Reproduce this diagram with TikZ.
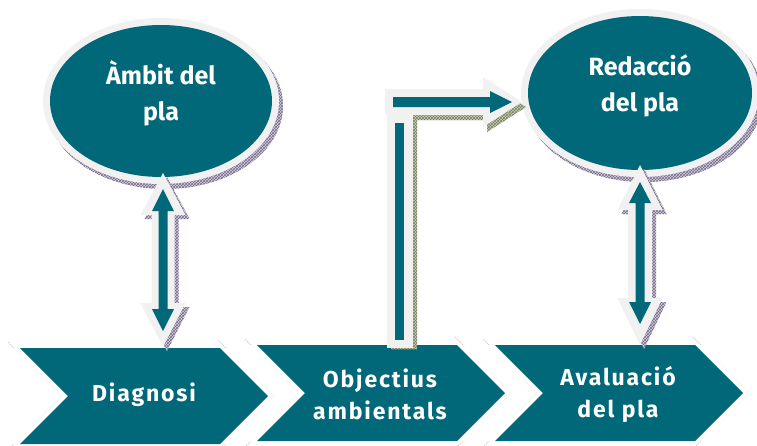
\documentclass[tikz,border=0pt]{standalone}
\usepackage{fontspec}
\setmainfont{Fira Sans}
\newfontfamily\chevfont[LetterSpace=8]{Fira Sans}
\usetikzlibrary{patterns}
\definecolor{tealA}{RGB}{0,104,120}
\definecolor{rimA}{RGB}{241,241,241}
\definecolor{shadP}{RGB}{212,206,222}
\definecolor{shadPd}{RGB}{120,110,140}
\definecolor{shadO}{RGB}{200,206,182}
\definecolor{shadOd}{RGB}{120,130,95}
\definecolor{dotA}{RGB}{205,210,210}
\tikzset{
  pshadow/.style={fill=shadP, postaction={pattern=crosshatch, pattern color=shadPd}},
  oshadow/.style={fill=shadO, postaction={pattern=crosshatch, pattern color=shadOd}},
  chevedge/.style={draw=dotA, line width=1pt, dash pattern=on 1.5pt off 1pt},
  ellbox/.style={text=white, font=\bfseries\fontsize{25}{36}\selectfont, align=center},
  chevtext/.style={text=white, font=\chevfont\bfseries\fontsize{23}{32}\selectfont, align=center},
}
\begin{document}
\begin{tikzpicture}[x=1pt,y=-1pt]
\useasboundingbox (0,0) rectangle (757,445);
\fill[white] (0,0) rectangle (757,445);

% ---------- chevrons ----------
\foreach \xl/\yt in {20/348, 257/345, 495/345}{
  \draw[chevedge] (\xl-12,\yt-6) -- (\xl+42,\yt+48) -- (\xl-12,\yt+102);
  \draw[chevedge] (\xl+200-2,\yt-8) -- (\xl+254,\yt+48) -- (\xl+200-2,\yt+104);
  \fill[white] (\xl-7,\yt) -- (\xl+42,\yt+48) -- (\xl-7,\yt+96) -- (\xl+207,\yt+96) -- (\xl+254,\yt+48) -- (\xl+207,\yt) -- cycle;
  \fill[tealA] (\xl,\yt) -- (\xl+200,\yt) -- (\xl+248,\yt+48) -- (\xl+200,\yt+96)
     -- (\xl,\yt+96) -- (\xl+48,\yt+48) -- cycle;
}
\node[chevtext] (diag) at (144,395) {Diagnosi};
\node[chevtext] (obj) at (380,394) {Objectius\\ambientals};
\node[chevtext] (aval) at (618,394) {Avaluació\\del pla};

% ---------- ellipses ----------
\fill[pshadow] (165,106) ellipse [x radius=118, y radius=83];
\fill[rimA] (161,101) ellipse [x radius=118, y radius=83];
\fill[tealA] (161,101) ellipse [x radius=111, y radius=76];
\node[ellbox] (amb) at (161,93) {Àmbit del\\pla};

\fill[pshadow] (644,98) ellipse [x radius=119, y radius=84];
\fill[rimA] (640,93) ellipse [x radius=119, y radius=84];
\fill[tealA] (640,93) ellipse [x radius=112, y radius=77];
\node[ellbox] (red) at (640,86) {Redacció\\del pla};

% ---------- double arrow 1 ----------
\begin{scope}[shift={(4,4)}]
\fill[pshadow] (163,173) -- (185.5,215) -- (174.5,215) -- (174.5,303) -- (185.5,303) -- (163,347)
  -- (140.5,303) -- (151.5,303) -- (151.5,215) -- (140.5,215) -- cycle;
\end{scope}
\fill[rimA] (163,173) -- (185.5,215) -- (174.5,215) -- (174.5,303) -- (185.5,303) -- (163,347)
  -- (140.5,303) -- (151.5,303) -- (151.5,215) -- (140.5,215) -- cycle;
\fill[tealA] (163,189) -- (174,211) -- (167.5,211) -- (167.5,309) -- (174,309) -- (163,331)
  -- (152,309) -- (158.5,309) -- (158.5,211) -- (152,211) -- cycle;

% ---------- double arrow 2 ----------
\begin{scope}[shift={(4,4)}]
\fill[pshadow] (640,165) -- (662.5,210) -- (652,210) -- (652,298) -- (662.5,298) -- (640,345)
  -- (617.5,298) -- (628,298) -- (628,210) -- (617.5,210) -- cycle;
\end{scope}
\fill[rimA] (640,165) -- (662.5,210) -- (652,210) -- (652,298) -- (662.5,298) -- (640,345)
  -- (617.5,298) -- (628,298) -- (628,210) -- (617.5,210) -- cycle;
\fill[tealA] (640,182) -- (651,203) -- (644.5,203) -- (644.5,302) -- (651,302) -- (640,324)
  -- (629,302) -- (635.5,302) -- (635.5,203) -- (629,203) -- cycle;

% ---------- L arrow ----------
\begin{scope}[shift={(4,5)}]
\fill[oshadow] (387,113) -- (413,113) -- (413,344) -- (387,344) -- cycle;
\fill[oshadow] (385,89) -- (483,89) -- (483,77) -- (522,102) -- (483,127) -- (483,115) -- (385,115) -- cycle;
\end{scope}
\fill[rimA] (387,113) -- (413,113) -- (413,348) -- (387,348) -- cycle;
\fill[rimA] (385,89) -- (483,89) -- (483,77) -- (522,102) -- (483,127) -- (483,115) -- (385,115) -- cycle;
\fill[tealA] (395,123) rectangle (404,340);
\fill[tealA] (393,97) -- (490,97) -- (490,91) -- (512,102) -- (490,113) -- (490,107) -- (393,107) -- cycle;
\end{tikzpicture}
\end{document}
